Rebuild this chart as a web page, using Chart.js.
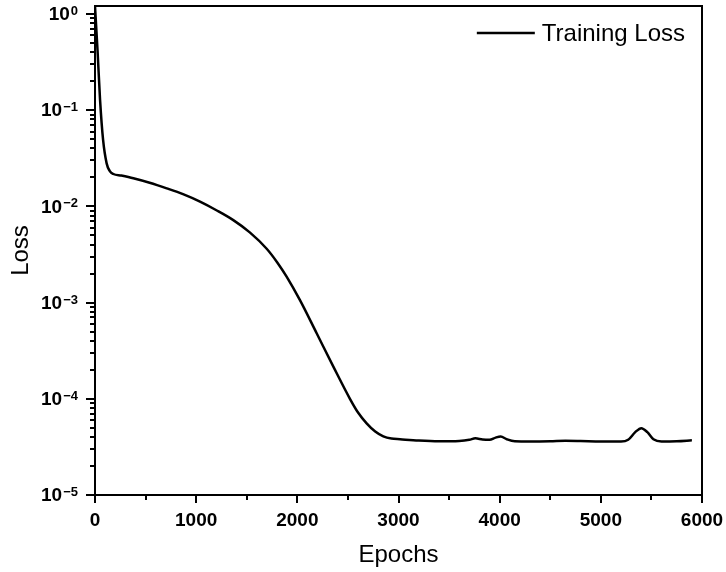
<!DOCTYPE html>
<html>
<head>
<meta charset="utf-8">
<script src="https://cdn.jsdelivr.net/npm/chart.js@4"></script>
<style>
  html, body { margin: 0; padding: 0; background: #fff; }
  #wrap { width: 726px; height: 572px; }
</style>
</head>
<body>
<div id="wrap"><canvas id="lossChart"></canvas></div>
<script>
// valores (epoca -> loss)
const epochs = [0, 25, 50, 80, 115, 145, 181, 260, 379, 540, 709, 870, 1038, 1200, 1367, 1530, 1697, 1800, 1894,
  2026, 2191, 2356, 2520, 2600, 2685, 2770, 2850, 2930, 3015, 3200, 3400, 3600, 3700, 3760, 3830, 3900, 3960,
  4010, 4070, 4150, 4300, 4500, 4650, 4800, 5000, 5200, 5270, 5340, 5400, 5460, 5520, 5600, 5750, 5900];
const trainLoss = [1.2, 0.42, 0.128, 0.049, 0.028, 0.0234, 0.0217, 0.0209, 0.0196, 0.0176, 0.0154, 0.0134, 0.0112,
  0.00912, 0.0072, 0.00537, 0.00363, 0.00263, 0.00186, 0.00106, 0.00048, 0.000216, 1.0e-4, 7.2e-5, 5.56e-5, 4.57e-5,
  4.07e-5, 3.86e-5, 3.8e-5, 3.68e-5, 3.62e-5, 3.65e-5, 3.75e-5, 3.88e-5, 3.78e-5, 3.75e-5, 3.95e-5, 4.05e-5,
  3.8e-5, 3.62e-5, 3.6e-5, 3.62e-5, 3.66e-5, 3.64e-5, 3.6e-5, 3.6e-5, 3.75e-5, 4.5e-5, 4.95e-5, 4.5e-5, 3.8e-5,
  3.6e-5, 3.62e-5, 3.7e-5];
const seriesLabel = 'Training Loss';
const xTitle = 'Epochs';
const yTitle = 'Loss';
const xMin = 0, xMax = 6000, xStep = 500, xLabelStep = 1000;
const yMin = 1e-5, yMax = 1.21;

const FONT = "'Liberation Sans', Arial, sans-serif";

function isPow10(v){
  const e = Math.log10(v);
  return Math.abs(e - Math.round(e)) < 1e-9;
}
function mantissa(v){
  return v / Math.pow(10, Math.floor(Math.log10(v) + 1e-9));
}

// moldura, tracos dos eixos, rotulos 10^n e legenda
const axisTicks = {
  id: 'axisTicks',
  afterDraw(chart){
    const ctx = chart.ctx, a = chart.chartArea;
    const xs = chart.scales.x, ys = chart.scales.y;
    ctx.save();
    ctx.strokeStyle = '#000';
    ctx.lineWidth = 2;
    ctx.strokeRect(a.left, a.top, a.right - a.left, a.bottom - a.top);
    ctx.beginPath();
    xs.ticks.forEach(t => {
      const px = Math.round(xs.getPixelForValue(t.value));
      const len = t.value % xLabelStep === 0 ? 8 : 5;
      ctx.moveTo(px, a.bottom);
      ctx.lineTo(px, a.bottom + len);
    });
    ys.ticks.forEach(t => {
      const m = mantissa(t.value);
      if (Math.abs(m - Math.round(m)) > 1e-6) return;
      const py = Math.round(ys.getPixelForValue(t.value));
      const len = isPow10(t.value) ? 9 : 5;
      ctx.moveTo(a.left, py);
      ctx.lineTo(a.left - len, py);
    });
    ctx.stroke();

    // rotulos do eixo y com expoente
    ctx.fillStyle = '#000';
    const right = a.left - 17;
    ys.ticks.forEach(t => {
      if (!isPow10(t.value)) return;
      const py = ys.getPixelForValue(t.value);
      const exp = String(Math.round(Math.log10(t.value))).replace('-', '\u2212');
      ctx.font = 'bold 13px ' + FONT;
      const ew = ctx.measureText(exp).width;
      ctx.textAlign = 'left';
      ctx.textBaseline = 'top';
      ctx.fillText(exp, right - ew, py - 9);
      ctx.font = 'bold 19px ' + FONT;
      ctx.textAlign = 'right';
      ctx.textBaseline = 'middle';
      ctx.fillText('10', right - ew - 1, py + 1);
    });

    // legenda
    const ds = chart.data.datasets[0];
    ctx.font = '24px ' + FONT;
    const tw = ctx.measureText(ds.label).width;
    const tx = a.right - 17 - tw, ly = a.top + 27;
    ctx.textAlign = 'left';
    ctx.textBaseline = 'middle';
    ctx.fillText(ds.label, tx, ly + 1);
    ctx.strokeStyle = ds.borderColor;
    ctx.lineWidth = ds.borderWidth;
    ctx.beginPath();
    ctx.moveTo(tx - 65, ly);
    ctx.lineTo(tx - 7, ly);
    ctx.stroke();
    ctx.restore();
  }
};

new Chart(document.getElementById('lossChart'), {
  type: 'line',
  data: {
    labels: epochs,
    datasets: [{
      label: seriesLabel,
      data: epochs.map((e, i) => ({x: e, y: trainLoss[i]})),
      borderColor: '#000',
      backgroundColor: '#000',
      borderWidth: 2.5,
      pointRadius: 0,
      fill: false,
      cubicInterpolationMode: 'monotone'
    }]
  },
  options: {
    responsive: true,
    maintainAspectRatio: false,
    animation: false,
    layout: { padding: { top: 6, right: 24, left: 0, bottom: 0 } },
    plugins: {
      tooltip: { enabled: false },
      legend: { display: false }
    },
    scales: {
      x: {
        type: 'linear',
        min: xMin,
        max: xMax,
        afterFit(s){ s.height = 77; s.paddingLeft = 0; s.paddingRight = 0; },
        grid: { display: false, drawTicks: false },
        border: { display: false },
        ticks: {
          stepSize: xStep,
          autoSkip: false,
          maxRotation: 0,
          padding: 14,
          color: '#000',
          font: { family: FONT, size: 19, weight: 'bold' },
          callback: v => (v % xLabelStep === 0 ? String(v) : '')
        },
        title: {
          display: true,
          text: xTitle,
          color: '#000',
          font: { family: FONT, size: 24 },
          padding: { top: 4, bottom: 2 }
        }
      },
      y: {
        type: 'logarithmic',
        min: yMin,
        max: yMax,
        afterFit(s){ s.width = 95; s.paddingTop = 0; s.paddingBottom = 0; },
        grid: { display: false, drawTicks: false },
        border: { display: false },
        ticks: {
          autoSkip: false,
          padding: 17,
          callback: () => ''
        },
        title: {
          display: true,
          text: yTitle,
          color: '#000',
          font: { family: FONT, size: 24 },
          padding: { top: 7, bottom: 4 }
        }
      }
    }
  },
  plugins: [axisTicks]
});
</script>
</body>
</html>
